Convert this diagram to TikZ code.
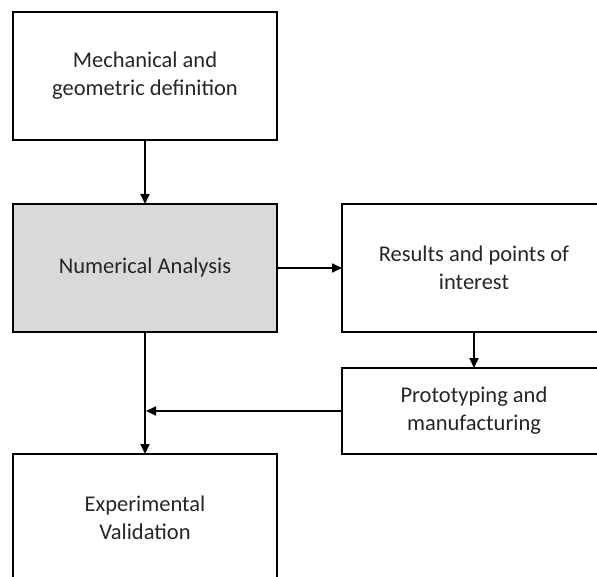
\documentclass[tikz,border=0pt]{standalone}
\usepackage{fontspec}
\setmainfont{Carlito}
\usetikzlibrary{positioning}
\usetikzlibrary{arrows.meta}

\begin{document}
\begin{tikzpicture}[x=1pt,y=1pt]
\tikzstyle{block}=[draw, line width=1.7pt, outer sep=0pt, minimum width=264pt, 
minimum height=128pt, align=center, text=black!85, 
font=\fontsize{22.5}{28}\selectfont]
\tikzstyle{flow}=[line width=1.7pt, -{Triangle[length=10pt,width=9pt]}]
	\useasboundingbox (0,0) rectangle (597,-577);
	\clip (0,0) rectangle (597,-577);
	
	\node [block, anchor = north west] (mech) at (13,-12) 
	{Mechanical and\\geometric definition};
	\node [block, fill = black!15, below = 64pt of mech] (num) 
	{Numerical Analysis};
	\node [block, right = 65pt of num] (res) 
	{Results and points of\\interest};
	\node [block, minimum height = 86pt, below = 36pt of res] (proto) 
	{Prototyping and\\manufacturing};
	\node [block, below = 122pt of num] (exp) 
	{Experimental\\Validation};
	
	% main line
	\draw [flow] (mech.south) -- (num.north);
	\draw [flow] (num.south) -- (exp.north);
	
	% side branch
	\draw [flow] (num.east) -- (res.west);
	\draw [flow] (res.south) -- (proto.north);
	\draw [flow, shorten >= 1pt] (proto.west) -- (proto.west -| num.south);
\end{tikzpicture}
\end{document}
